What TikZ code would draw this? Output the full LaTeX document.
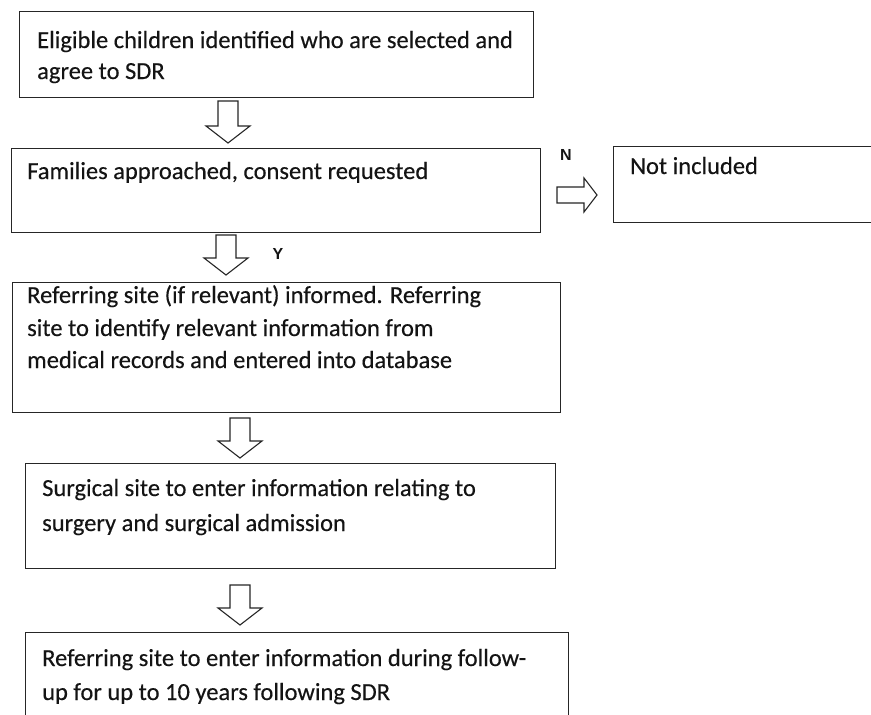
\documentclass[tikz,border=0pt]{standalone}
\usepackage{fontspec}
\setmainfont{Carlito}
\newfontfamily\bodyfont{Carlito}[FakeBold=0.3]
\newfontfamily\lblfont{Liberation Sans}
\definecolor{linec}{HTML}{262626}
\definecolor{textc}{HTML}{141414}
\tikzset{
  box/.style={draw=linec, line width=1.3pt, rectangle, inner sep=0pt, anchor=north west},
  txt/.style={anchor=base west, inner sep=0pt, text=textc, font=\bodyfont\fontsize{24.5}{28}\selectfont},
  lbl/.style={inner sep=0pt, text=textc, font=\lblfont\bfseries\fontsize{16}{18}\selectfont},
  blockarrow/.style={draw=linec, line width=1.1pt, line join=miter, fill=white},
  pics/downarr/.style={code={
    \draw[blockarrow] (-10,0) -- (-10,{#1-17}) -- (-22,{#1-17}) -- (0,#1)
      -- (22,{#1-17}) -- (10,{#1-17}) -- (10,0) -- cycle;}},
  pics/rightarr/.style={code={
    \draw[blockarrow] (0,-8) -- ({#1-13},-8) -- ({#1-13},-17) -- (#1,0)
      -- ({#1-13},17) -- ({#1-13},8) -- (0,8) -- cycle;}}
}
\begin{document}
\begin{tikzpicture}[x=1pt,y=-1pt]
\useasboundingbox[fill=white] (0,0) rectangle (871,715);
\clip (0,0) rectangle (871,715);

% boxes
\node[box, minimum width=514pt, minimum height=86pt] (b1) at (19,11) {};
\node[box, minimum width=529pt, minimum height=84pt] (b2) at (11,148) {};
\node[box, minimum width=280pt, minimum height=76pt] (b3) at (613,146) {};
\node[box, minimum width=548pt, minimum height=130pt] (b4) at (12,282) {};
\node[box, minimum width=530pt, minimum height=105pt] (b5) at (25,463) {};
\node[box, minimum width=543pt, minimum height=130pt] (b6) at (25,632) {};

% texts
\node[txt] (t1a) at (37,48) {Eligible children identified who are selected and};
\node[txt] (t1b) at (37,79) {agree to SDR};
\node[txt] (t2) at (27,179) {Families approached, consent requested};
\node[txt] (t3) at (630,174) {Not included};
\node[txt] (t4a) at (27,303) {Referring site (if relevant) informed. Referring};
\node[txt] (t4b) at (27,336) {site to identify relevant information from};
\node[txt] (t4c) at (27,368) {medical records and entered into database};
\node[txt] (t5a) at (42,496) {Surgical site to enter information relating to};
\node[txt] (t5b) at (42,531) {surgery and surgical admission};
\node[txt] (t6a) at (42,666) {Referring site to enter information during follow-};
\node[txt] (t6b) at (42,700) {up for up to 10 years following SDR};

% labels
\node[lbl] (n) at (566,155) {N};
\node[lbl] (y) at (278,254) {Y};

% block arrows
\coordinate (a1) at (228,101);
\coordinate (a2) at (226,235);
\coordinate (a3) at (240,418);
\coordinate (a4) at (240,585);
\coordinate (a5) at (557,195);
\pic at (a1) {downarr=42};
\pic at (a2) {downarr=40};
\pic at (a3) {downarr=40};
\pic at (a4) {downarr=40};
\pic at (a5) {rightarr=40};
\end{tikzpicture}
\end{document}
